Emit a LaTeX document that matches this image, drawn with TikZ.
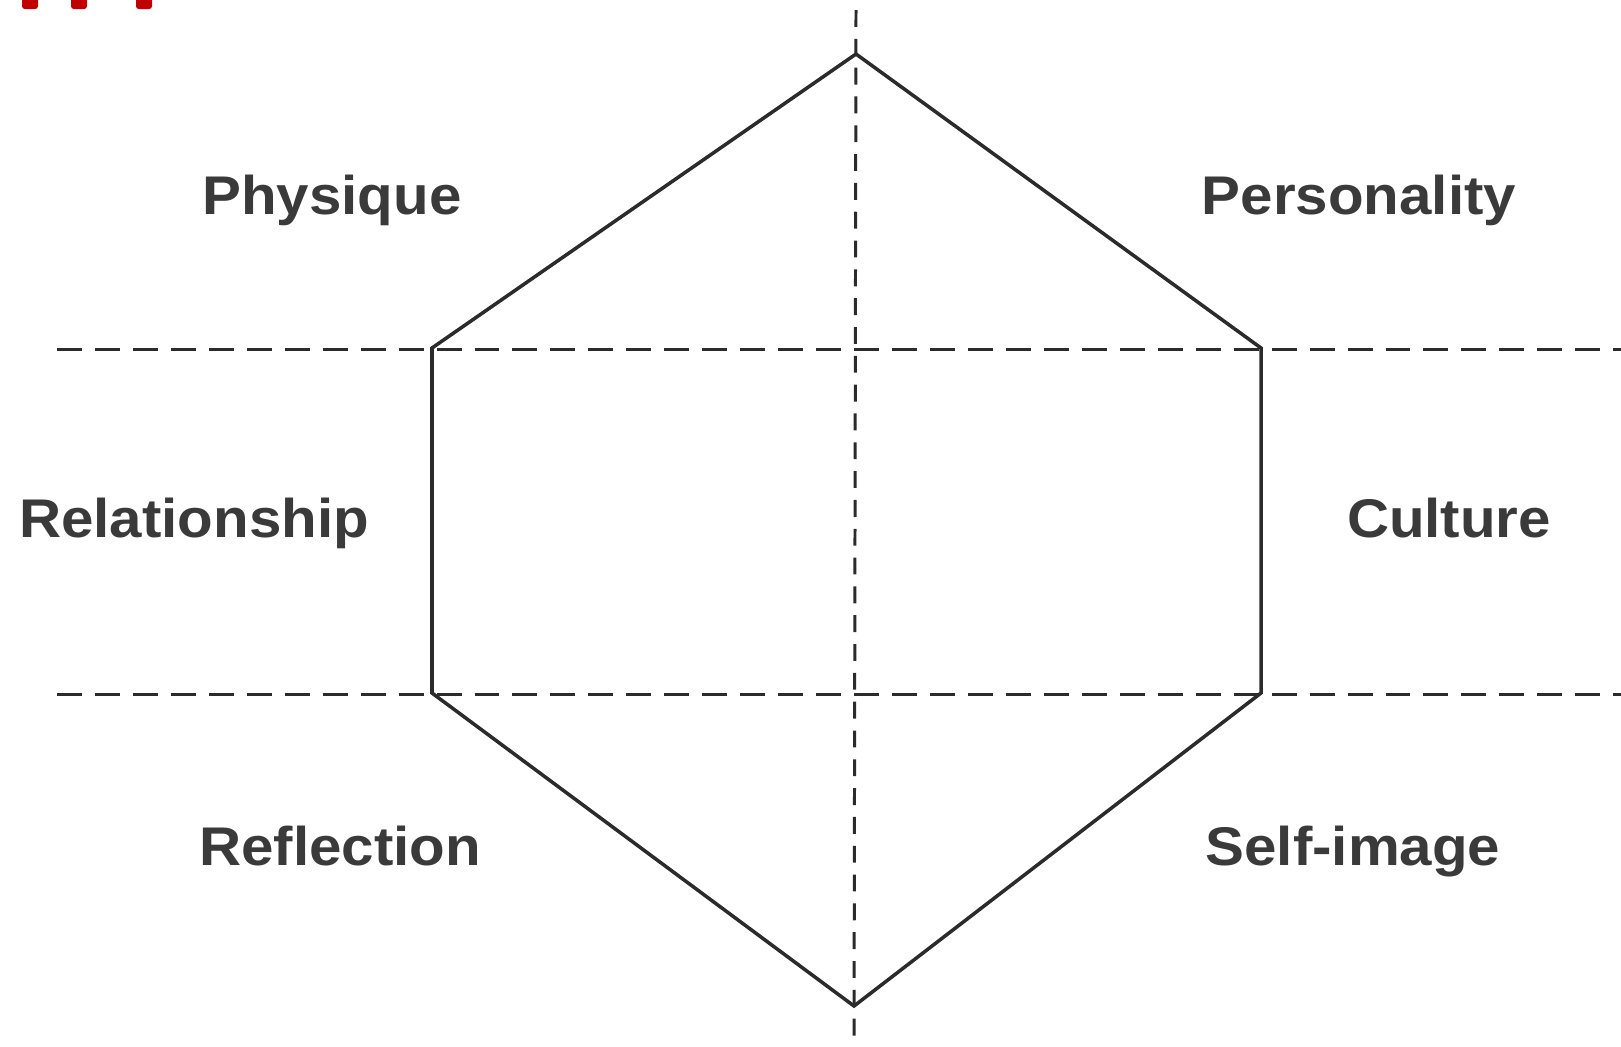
\documentclass[tikz,border=0pt]{standalone}
\usepackage{fontspec}
\setmainfont{Liberation Sans}
\newfontfamily\facetfont[FakeStretch=1.07]{Liberation Sans}
\usepackage{tikz}
\usepackage{xcolor}
\usetikzlibrary{positioning, calc}
\definecolor{PrismInk}{HTML}{2B2B2B}
\definecolor{PrismText}{HTML}{3A3A3A}
\definecolor{SlideRed}{HTML}{C00000}
\tikzset{
    % Line styles
    hexedge/.style={
        draw=PrismInk,
        line width=1pt,
        line join=miter
    },
    levelline/.style={
        draw=PrismInk,
        line width=0.85pt,
        dash pattern=on 7.1pt off 3.7pt
    },
    axisline/.style={
        draw=PrismInk,
        line width=0.85pt,
        dash pattern=on 4.8pt off 3.4pt
    },
    % Label style
    facetlabel/.style={
        text=PrismText,
        font=\facetfont\bfseries\fontsize{15.5}{18}\selectfont,
        inner sep=0pt,
        anchor=base
    },
    % Slide marks
    redmark/.style={
        fill=SlideRed,
        rounded corners=0.8pt
    }
}
\begin{document}
\begin{tikzpicture}[x=0.1mm, y=-0.1mm]
            \useasboundingbox (0,0) rectangle (1621,1046);

            % Slide marks
            \fill[redmark] (22,-10) rectangle (38,9);
            \fill[redmark] (71,-10) rectangle (87,9);
            \fill[redmark] (136,-10) rectangle (152,9);

            % Hexagon corners
            \coordinate (top) at (856,54);
            \coordinate (ul) at (432,348);
            \coordinate (ur) at (1261,348);
            \coordinate (ll) at (432,693);
            \coordinate (lr) at (1261,693);
            \coordinate (bottom) at (854,1006);

            % Line ends
            \coordinate (h1w) at (57,349);
            \coordinate (h1e) at (1621,349);
            \coordinate (h2w) at (57,694);
            \coordinate (h2e) at (1621,694);
            \coordinate (vn) at (856,10);
            \coordinate (vs) at (854,1046);

            % Dashed lines
            \draw[levelline] (h1w) -- (h1e);
            \draw[levelline] (h2w) -- (h2e);
            \draw[axisline] (vn) -- (vs);

            % Hexagon
            \draw[hexedge] (top) -- (ur) -- (lr) -- (bottom) -- (ll) -- (ul) -- cycle;

            % Labels
            \node[facetlabel] (physique) at (332,214) {Physique};
            \node[facetlabel] (personality) at (1359,214) {Personality};
            \node[facetlabel] (relationship) at (194,537) {Relationship};
            \node[facetlabel] (culture) at (1449,537) {Culture};
            \node[facetlabel] (reflection) at (340,865) {Reflection};
            \node[facetlabel] (selfimage) at (1353,865) {Self-image};
        \end{tikzpicture}
\end{document}
